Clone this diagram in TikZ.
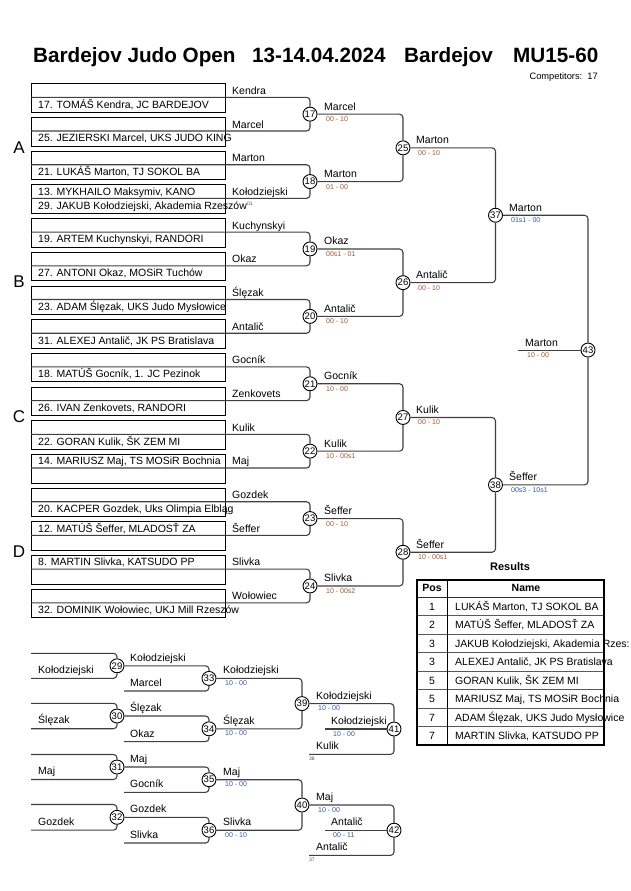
\documentclass[tikz,border=0pt]{standalone}
\usepackage{fontspec}
\setmainfont{Liberation Sans}
\definecolor{lc}{HTML}{404040}
\definecolor{scO}{HTML}{A45432}
\definecolor{scB}{HTML}{3556A6}
\newcommand{\fsz}[1]{\fontsize{#1}{#1}\selectfont}
\begin{document}
\begin{tikzpicture}[x=1pt,y=-1pt,
  box/.style={draw=black,line width=0.8pt,minimum width=194pt,minimum height=28.5pt,anchor=north west,inner sep=0pt},
  conn/.style={draw=lc,line width=1.1pt,rounded corners=3.5pt},
  circ/.style={circle,draw=black,line width=0.9pt,fill=white,inner sep=0pt,minimum size=14pt,font=\fsz{9.5}},
  nm/.style={anchor=base west,inner sep=0pt,font=\fsz{10.5}},
  sc/.style={anchor=base west,inner sep=0pt,font=\fsz{7},text=scO},
  scb/.style={sc,text=scB},
  tinytx/.style={anchor=base west,inner sep=0pt,font=\fsz{5},text=black!70},
  grp/.style={anchor=base,inner sep=0pt,font=\fsz{17}},
  hd/.style={anchor=base,inner sep=0pt,font=\fsz{10.5}\bfseries},
]
\useasboundingbox (0,0) rectangle (630,891);

% ---------- title ----------
\node[anchor=base west,inner sep=0pt,font=\fsz{20.7}\bfseries] (t1) at (33,63) {Bardejov Judo Open};
\node[anchor=base west,inner sep=0pt,font=\fsz{20.7}\bfseries] (t2) at (252,63) {13-14.04.2024};
\node[anchor=base west,inner sep=0pt,font=\fsz{20.7}\bfseries] (t3) at (404,63) {Bardejov};
\node[anchor=base west,inner sep=0pt,font=\fsz{20.7}\bfseries] (t4) at (513,63) {MU15-60};
\node[anchor=base east,inner sep=0pt,font=\fsz{9.3}] (comp) at (598,79) {Competitors:\ \ 17};

% ---------- group letters ----------
\node[grp] (gA) at (19,153) {A};
\node[grp] (gB) at (19,287.8) {B};
\node[grp] (gC) at (19,422.6) {C};
\node[grp] (gD) at (19,557.4) {D};

% ---------- entry boxes ----------
\node[box] (b0) at (31,83.3) {};
\node[box] (b1) at (31,117.0) {};
\node[box] (b2) at (31,150.7) {};
\node[box] (b3) at (31,184.4) {};
\node[box] (b4) at (31,218.1) {};
\node[box] (b5) at (31,251.8) {};
\node[box] (b6) at (31,285.5) {};
\node[box] (b7) at (31,319.2) {};
\node[box] (b8) at (31,352.9) {};
\node[box] (b9) at (31,386.6) {};
\node[box] (b10) at (31,420.3) {};
\node[box] (b11) at (31,454.0) {};
\node[box] (b12) at (31,487.7) {};
\node[box] (b13) at (31,521.4) {};
\node[box] (b14) at (31,555.1) {};
\node[box] (b15) at (31,588.8) {};

% line starts
\coordinate (e0) at (31,97.3);
\coordinate (e1) at (31,131.0);
\coordinate (e2) at (31,164.7);
\coordinate (e3) at (31,198.4);
\coordinate (e4) at (31,232.1);
\coordinate (e5) at (31,265.8);
\coordinate (e6) at (31,299.5);
\coordinate (e7) at (31,333.2);
\coordinate (e8) at (31,366.9);
\coordinate (e9) at (31,400.6);
\coordinate (e10) at (31,434.3);
\coordinate (e11) at (31,468.0);
\coordinate (e12) at (31,501.7);
\coordinate (e13) at (31,535.4);
\coordinate (e14) at (31,569.1);
\coordinate (e15) at (31,602.8);

% entry names
\node[nm] (n0) at (38,108.1) {17. TOMÁŠ Kendra, JC BARDEJOV};
\node[nm] (n1) at (38,141.8) {25. JEZIERSKI Marcel, UKS JUDO KING};
\node[nm] (n2) at (38,175.5) {21. LUKÁŠ Marton, TJ SOKOL BA};
\node[nm] (n3u) at (38,195.2) {13. MYKHAILO Maksymiv, KANO};
\node[nm] (n3) at (38,209.2) {29. JAKUB Kołodziejski, Akademia Rzeszów};
\node[nm] (n4) at (38,242.9) {19. ARTEM Kuchynskyi, RANDORI};
\node[nm] (n5) at (38,276.6) {27. ANTONI Okaz, MOSiR Tuchów};
\node[nm] (n6) at (38,310.3) {23. ADAM Ślęzak, UKS Judo Mysłowice};
\node[nm] (n7) at (38,344.0) {31. ALEXEJ Antalič, JK PS Bratislava};
\node[nm] (n8) at (38,377.7) {18. MATÚŠ Gocník, 1. JC Pezinok};
\node[nm] (n9) at (38,411.4) {26. IVAN Zenkovets, RANDORI};
\node[nm] (n10) at (38,445.1) {22. GORAN Kulik, ŠK ZEM MI};
\node[nm] (n11) at (38,464.8) {14. MARIUSZ Maj, TS MOSiR Bochnia};
\node[nm] (n12) at (38,512.5) {20. KACPER Gozdek, Uks Olimpia Elbląg};
\node[nm] (n13) at (38,532.2) {12. MATÚŠ Šeffer, MLADOSŤ ZA};
\node[nm] (n14) at (38,565.9) {8. MARTIN Slivka, KATSUDO PP};
\node[nm] (n15) at (38,613.6) {32. DOMINIK Wołowiec, UKJ Mill Rzeszów};
\node[tinytx] (p3) at (247,205.5) {01};

% entry labels
\node[nm] (l0) at (232,94.3) {Kendra};
\node[nm] (l1) at (232,128.0) {Marcel};
\node[nm] (l2) at (232,161.7) {Marton};
\node[nm] (l3) at (232,195.2) {Kołodziejski};
\node[nm] (l4) at (232,229.1) {Kuchynskyi};
\node[nm] (l5) at (232,262.8) {Okaz};
\node[nm] (l6) at (232,296.5) {Ślęzak};
\node[nm] (l7) at (232,330.2) {Antalič};
\node[nm] (l8) at (232,363.9) {Gocník};
\node[nm] (l9) at (232,397.6) {Zenkovets};
\node[nm] (l10) at (232,431.3) {Kulik};
\node[nm] (l11) at (232,464.8) {Maj};
\node[nm] (l12) at (232,498.7) {Gozdek};
\node[nm] (l13) at (232,532.2) {Šeffer};
\node[nm] (l14) at (232,565.9) {Slivka};
\node[nm] (l15) at (232,599.6) {Wołowiec};

% ---------- main bracket circles ----------
\node[circ] (c17) at (310,114.15) {17};
\node[circ] (c18) at (310,181.55) {18};
\node[circ] (c19) at (310,248.95) {19};
\node[circ] (c20) at (310,316.35) {20};
\node[circ] (c21) at (310,383.75) {21};
\node[circ] (c22) at (310,451.15) {22};
\node[circ] (c23) at (310,518.55) {23};
\node[circ] (c24) at (310,585.95) {24};
\node[circ] (c25) at (403,147.85) {25};
\node[circ] (c26) at (403,282.65) {26};
\node[circ] (c27) at (403,417.45) {27};
\node[circ] (c28) at (403,552.25) {28};
\node[circ] (c37) at (495.5,215.25) {37};
\node[circ] (c38) at (495.5,484.85) {38};
\node[circ] (c43) at (588,350.05) {43};
\coordinate (fin) at (518,350.05);

% connectors round 1
\draw[conn] (e0) -| (c17.north);
\draw[conn] (e1) -| (c17.south);
\draw[conn] (e2) -| (c18.north);
\draw[conn] (e3) -| (c18.south);
\draw[conn] (e4) -| (c19.north);
\draw[conn] (e5) -| (c19.south);
\draw[conn] (e6) -| (c20.north);
\draw[conn] (e7) -| (c20.south);
\draw[conn] (e8) -| (c21.north);
\draw[conn] (e9) -| (c21.south);
\draw[conn] (e10) -| (c22.north);
\draw[conn] (e11) -| (c22.south);
\draw[conn] (e12) -| (c23.north);
\draw[conn] (e13) -| (c23.south);
\draw[conn] (e14) -| (c24.north);
\draw[conn] (e15) -| (c24.south);
% round 2
\draw[conn] (c17.east) -| (c25.north);
\draw[conn] (c18.east) -| (c25.south);
\draw[conn] (c19.east) -| (c26.north);
\draw[conn] (c20.east) -| (c26.south);
\draw[conn] (c21.east) -| (c27.north);
\draw[conn] (c22.east) -| (c27.south);
\draw[conn] (c23.east) -| (c28.north);
\draw[conn] (c24.east) -| (c28.south);
% round 3
\draw[conn] (c25.east) -| (c37.north);
\draw[conn] (c26.east) -| (c37.south);
\draw[conn] (c27.east) -| (c38.north);
\draw[conn] (c28.east) -| (c38.south);
% final
\draw[conn] (c37.east) -| (c43.north);
\draw[conn] (c38.east) -| (c43.south);
\draw[conn] (fin) -- (c43.west);

% winner labels + scores
\node[nm] (w17) at (324,110.15) {Marcel};   \node[sc] (s17) at (326,121.65) {00 - 10};
\node[nm] (w18) at (324,177.55) {Marton};   \node[sc] (s18) at (326,189.05) {01 - 00};
\node[nm] (w19) at (324,244.95) {Okaz};     \node[sc] (s19) at (326,256.45) {00s1 - 01};
\node[nm] (w20) at (324,312.35) {Antalič};  \node[sc] (s20) at (326,323.85) {00 - 10};
\node[nm] (w21) at (324,379.75) {Gocník};   \node[sc] (s21) at (326,391.25) {10 - 00};
\node[nm] (w22) at (324,447.15) {Kulik};    \node[sc] (s22) at (326,458.65) {10 - 00s1};
\node[nm] (w23) at (324,514.55) {Šeffer};   \node[sc] (s23) at (326,526.05) {00 - 10};
\node[nm] (w24) at (324,581.95) {Slivka};   \node[sc] (s24) at (326,593.45) {10 - 00s2};
\node[nm] (w25) at (416,143.85) {Marton};   \node[sc] (s25) at (418,155.35) {00 - 10};
\node[nm] (w26) at (416,278.65) {Antalič};  \node[sc] (s26) at (418,290.15) {00 - 10};
\node[nm] (w27) at (416,413.45) {Kulik};    \node[sc] (s27) at (418,424.95) {00 - 10};
\node[nm] (w28) at (416,548.25) {Šeffer};   \node[sc] (s28) at (418,559.75) {10 - 00s1};
\node[nm] (w37) at (509,211.25) {Marton};   \node[scb] (s37) at (511,222.75) {01s1 - 00};
\node[nm] (w38) at (509,480.85) {Šeffer};   \node[scb] (s38) at (511,492.35) {00s3 - 10s1};
\node[nm] (w43) at (525,346.05) {Marton};   \node[sc] (s43) at (527,357.55) {10 - 00};

% ---------- results table ----------
\node[anchor=base,inner sep=0pt,font=\fsz{11}\bfseries] (rt) at (510,570) {Results};
\draw[black!80,line width=0.9pt] (417,597) -- (604,597);
\foreach \yy in {615.5,634,652.5,671,689.5,708,726.5}
  \draw[black!65,line width=0.9pt] (417,\yy) -- (604,\yy);
\draw[black,line width=0.9pt] (447.3,580) -- (447.3,745);
\draw[black,line width=1.8pt] (417,580) rectangle (604,745);
\node[hd] (hp) at (432,591.7) {Pos};
\node[hd] (hn) at (526,591.7) {Name};
\node[anchor=base,inner sep=0pt,font=\fsz{10.5}] (r1p) at (432,610) {1};
\node[anchor=base,inner sep=0pt,font=\fsz{10.5}] (r2p) at (432,628.5) {2};
\node[anchor=base,inner sep=0pt,font=\fsz{10.5}] (r3p) at (432,647) {3};
\node[anchor=base,inner sep=0pt,font=\fsz{10.5}] (r4p) at (432,665.5) {3};
\node[anchor=base,inner sep=0pt,font=\fsz{10.5}] (r5p) at (432,684) {5};
\node[anchor=base,inner sep=0pt,font=\fsz{10.5}] (r6p) at (432,702.5) {5};
\node[anchor=base,inner sep=0pt,font=\fsz{10.5}] (r7p) at (432,721) {7};
\node[anchor=base,inner sep=0pt,font=\fsz{10.5}] (r8p) at (432,739.5) {7};
\node[nm] (r1n) at (455,610) {LUKÁŠ Marton, TJ SOKOL BA};
\node[nm] (r2n) at (455,628.5) {MATÚŠ Šeffer, MLADOSŤ ZA};
\node[nm] (r3n) at (455,647) {JAKUB Kołodziejski, Akademia Rzes:};
\node[nm] (r4n) at (455,665.5) {ALEXEJ Antalič, JK PS Bratislava};
\node[nm] (r5n) at (455,684) {GORAN Kulik, ŠK ZEM MI};
\node[nm] (r6n) at (455,702.5) {MARIUSZ Maj, TS MOSiR Bochnia};
\node[nm] (r7n) at (455,721) {ADAM Ślęzak, UKS Judo Mysłowice};
\node[nm] (r8n) at (455,739.5) {MARTIN Slivka, KATSUDO PP};

% ---------- repechage ----------
\node[circ] (c29) at (117,665.8) {29};
\node[circ] (c30) at (117,716) {30};
\node[circ] (c31) at (117,767) {31};
\node[circ] (c32) at (117,817.3) {32};
\node[circ] (c33) at (209,678.4) {33};
\node[circ] (c34) at (209,728.8) {34};
\node[circ] (c35) at (209,779.7) {35};
\node[circ] (c36) at (209,830.2) {36};
\node[circ] (c39) at (302,703.6) {39};
\node[circ] (c40) at (302,805) {40};
\node[circ] (c41) at (394,729) {41};
\node[circ] (c42) at (394,830.2) {42};

\coordinate (r29a) at (31,653.3);
\coordinate (r29b) at (31,678.3);
\coordinate (r30a) at (31,703.3);
\coordinate (r30b) at (31,728.7);
\coordinate (r31a) at (31,754.5);
\coordinate (r31b) at (31,779.5);
\coordinate (r32a) at (31,804.5);
\coordinate (r32b) at (31,830.1);
\coordinate (r33b) at (124,691);
\coordinate (r34b) at (124,741.6);
\coordinate (r35b) at (124,792.4);
\coordinate (r36b) at (124,843);
\coordinate (r41s) at (325,729);
\coordinate (r41b) at (309,754.4);
\coordinate (r42s) at (325,830.2);
\coordinate (r42b) at (309,855.4);

\draw[conn] (r29a) -| (c29.north);
\draw[conn] (r29b) -| (c29.south);
\draw[conn] (r30a) -| (c30.north);
\draw[conn] (r30b) -| (c30.south);
\draw[conn] (r31a) -| (c31.north);
\draw[conn] (r31b) -| (c31.south);
\draw[conn] (r32a) -| (c32.north);
\draw[conn] (r32b) -| (c32.south);
\draw[conn] (c29.east) -| (c33.north);
\draw[conn] (r33b) -| (c33.south);
\draw[conn] (c30.east) -| (c34.north);
\draw[conn] (r34b) -| (c34.south);
\draw[conn] (c31.east) -| (c35.north);
\draw[conn] (r35b) -| (c35.south);
\draw[conn] (c32.east) -| (c36.north);
\draw[conn] (r36b) -| (c36.south);
\draw[conn] (c33.east) -| (c39.north);
\draw[conn] (c34.east) -| (c39.south);
\draw[conn] (c35.east) -| (c40.north);
\draw[conn] (c36.east) -| (c40.south);
\draw[conn] (c39.east) -| (c41.north);
\draw[conn] (r41s) -- (c41.west);
\draw[conn] (r41b) -| (c41.south);
\draw[conn] (c40.east) -| (c42.north);
\draw[conn] (r42s) -- (c42.west);
\draw[conn] (r42b) -| (c42.south);

\node[nm] (q1) at (38,673.3) {Kołodziejski};
\node[nm] (q2) at (38,723.9) {Ślęzak};
\node[nm] (q3) at (38,774.7) {Maj};
\node[nm] (q4) at (38,825.2) {Gozdek};
\node[nm] (q5) at (130,661.3) {Kołodziejski};
\node[nm] (q6) at (130,686.5) {Marcel};
\node[nm] (q7) at (130,711.5) {Ślęzak};
\node[nm] (q8) at (130,737.1) {Okaz};
\node[nm] (q9) at (130,762.5) {Maj};
\node[nm] (q10) at (130,787.9) {Gocník};
\node[nm] (q11) at (130,812.8) {Gozdek};
\node[nm] (q12) at (130,838.5) {Slivka};
\node[nm] (q13) at (223,673.9) {Kołodziejski}; \node[scb] (z13) at (225,685.4) {10 - 00};
\node[nm] (q14) at (223,724.3) {Ślęzak};       \node[scb] (z14) at (225,735.8) {10 - 00};
\node[nm] (q15) at (223,775.2) {Maj};          \node[scb] (z15) at (225,786.7) {10 - 00};
\node[nm] (q16) at (223,825.7) {Slivka};       \node[scb] (z16) at (225,837.2) {00 - 10};
\node[nm] (q17) at (316,699.1) {Kołodziejski}; \node[scb] (z17) at (318,710.6) {10 - 00};
\node[nm] (q18) at (331,724.5) {Kołodziejski}; \node[scb] (z18) at (333,736) {10 - 00};
\node[nm] (q19) at (316,749.9) {Kulik};        \node[tinytx] (z19) at (309,760) {38};
\node[nm] (q20) at (316,800.5) {Maj};          \node[scb] (z20) at (318,812) {10 - 00};
\node[nm] (q21) at (331,825.7) {Antalič};      \node[scb] (z21) at (333,837.2) {00 - 11};
\node[nm] (q22) at (316,850.9) {Antalič};      \node[tinytx] (z22) at (309,861) {37};
\end{tikzpicture}
\end{document}
